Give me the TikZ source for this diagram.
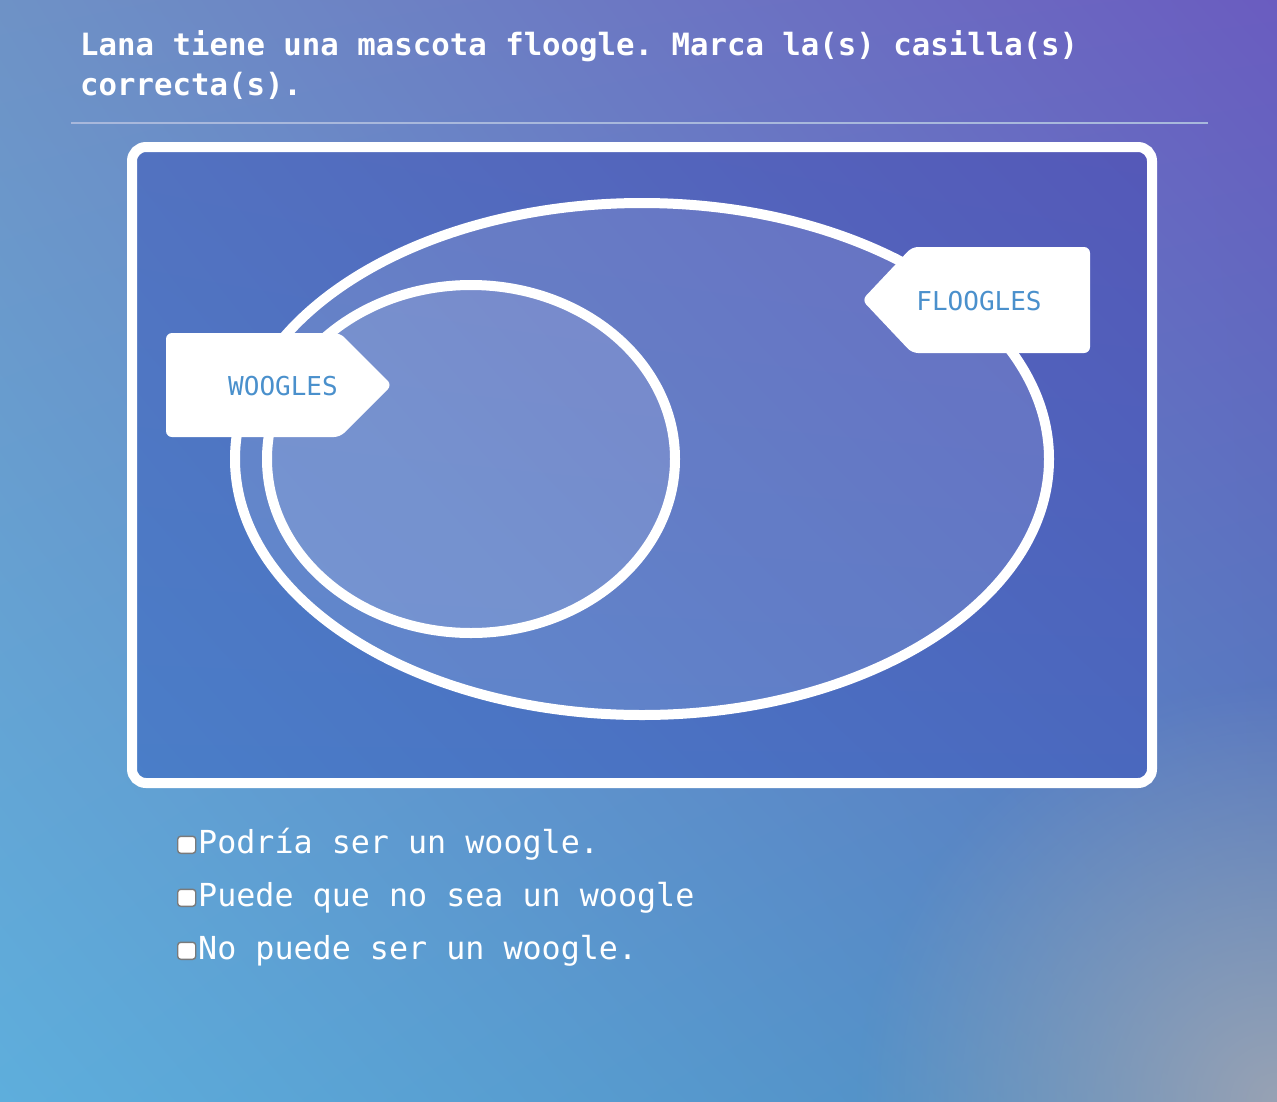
\documentclass[tikz,border=0pt]{standalone}
\usepackage{fontspec}
\setmonofont{DejaVu Sans Mono}
\usetikzlibrary{shadings, fadings}

\definecolor{bgtl}{HTML}{6E92C6}
\definecolor{bgtr}{HTML}{6A5CC0}
\definecolor{bgbl}{HTML}{5EAEDC}
\definecolor{bgbr}{HTML}{4F86C0}
\definecolor{bggrey}{HTML}{98A2B4}
\definecolor{pantl}{HTML}{5272C0}
\definecolor{pantr}{HTML}{5558B8}
\definecolor{panbl}{HTML}{4A7EC8}
\definecolor{panbr}{HTML}{4A68BE}
\definecolor{tagblue}{HTML}{4A90CC}
\definecolor{rulecol}{HTML}{A8B8DC}
\definecolor{boxedge}{HTML}{7A7A7A}

\tikzfading[name=cornerglow, inner color=transparent!0, outer color=transparent!100]

\tikzset{
  ring/.style={draw=white, line width=10pt},
  tagshape/.style={fill=white, rounded corners=6pt},
  taglabel/.style={inner sep=0pt, text=tagblue,
    font=\ttfamily\fontsize{26}{26}\selectfont},
  answer/.style={anchor=base west, inner sep=0pt, text=white,
    font=\ttfamily\fontsize{31.7}{32}\selectfont},
  tickbox/.style={draw=boxedge, fill=white, line width=1.4pt, rounded corners=3pt,
    minimum width=18pt, minimum height=17pt, inner sep=0pt, anchor=south west},
  question/.style={anchor=base west, inner sep=0pt, text=white,
    font=\ttfamily\bfseries\fontsize{30.7}{31}\selectfont}
}

\begin{document}
\begin{tikzpicture}[x=1pt, y=-1pt]
  \useasboundingbox (0,0) rectangle (1277,1101);
  % background
  \shade[upper left=bgtl, upper right=bgtr, lower left=bgbl, lower right=bgbr]
    (0,0) rectangle (1277,1101);
  \fill[bggrey, path fading=cornerglow] (1277,1101) circle (420);

  % question
  \node[question] (line1) at (80,55) {Lana tiene una mascota floogle. Marca la(s) casilla(s)};
  \node[question] (line2) at (80,95) {correcta(s).};
  \draw[rulecol, line width=2pt] (71,123) -- (1208,123);

  % panel
  \shade[upper left=pantl, upper right=pantr, lower left=panbl, lower right=panbr,
    rounded corners=14pt] (132,147) rectangle (1152,783);
  \draw[white, line width=10pt, rounded corners=14pt] (132,147) rectangle (1152,783);

  % sets
  \fill[white, fill opacity=0.12] (642,459) ellipse [x radius=407, y radius=256];
  \draw[ring] (642,459) ellipse [x radius=407, y radius=256];
  \fill[white, fill opacity=0.12] (471,459) ellipse [x radius=204, y radius=174];
  \draw[ring] (471,459) ellipse [x radius=204, y radius=174];

  % tags
  \fill[tagshape] (166,333) -- (340,333) -- (392,385) -- (340,437) -- (166,437) -- cycle;
  \node[taglabel] (woogles) at (283,386) {WOOGLES};
  \fill[tagshape] (1090,247) -- (912,247) -- (862,300) -- (912,353) -- (1090,353) -- cycle;
  \node[taglabel] (floogles) at (979,301) {FLOOGLES};

  % answers
  \foreach \txt [count=\i] in {Podría ser un woogle., Puede que no sea un woogle, No puede ser un woogle.}{
    \node[tickbox] (box\i) at (177,801+53*\i) {};
    \node[answer] (ans\i) at (198,800+53*\i) {\txt};
  }
\end{tikzpicture}
\end{document}
